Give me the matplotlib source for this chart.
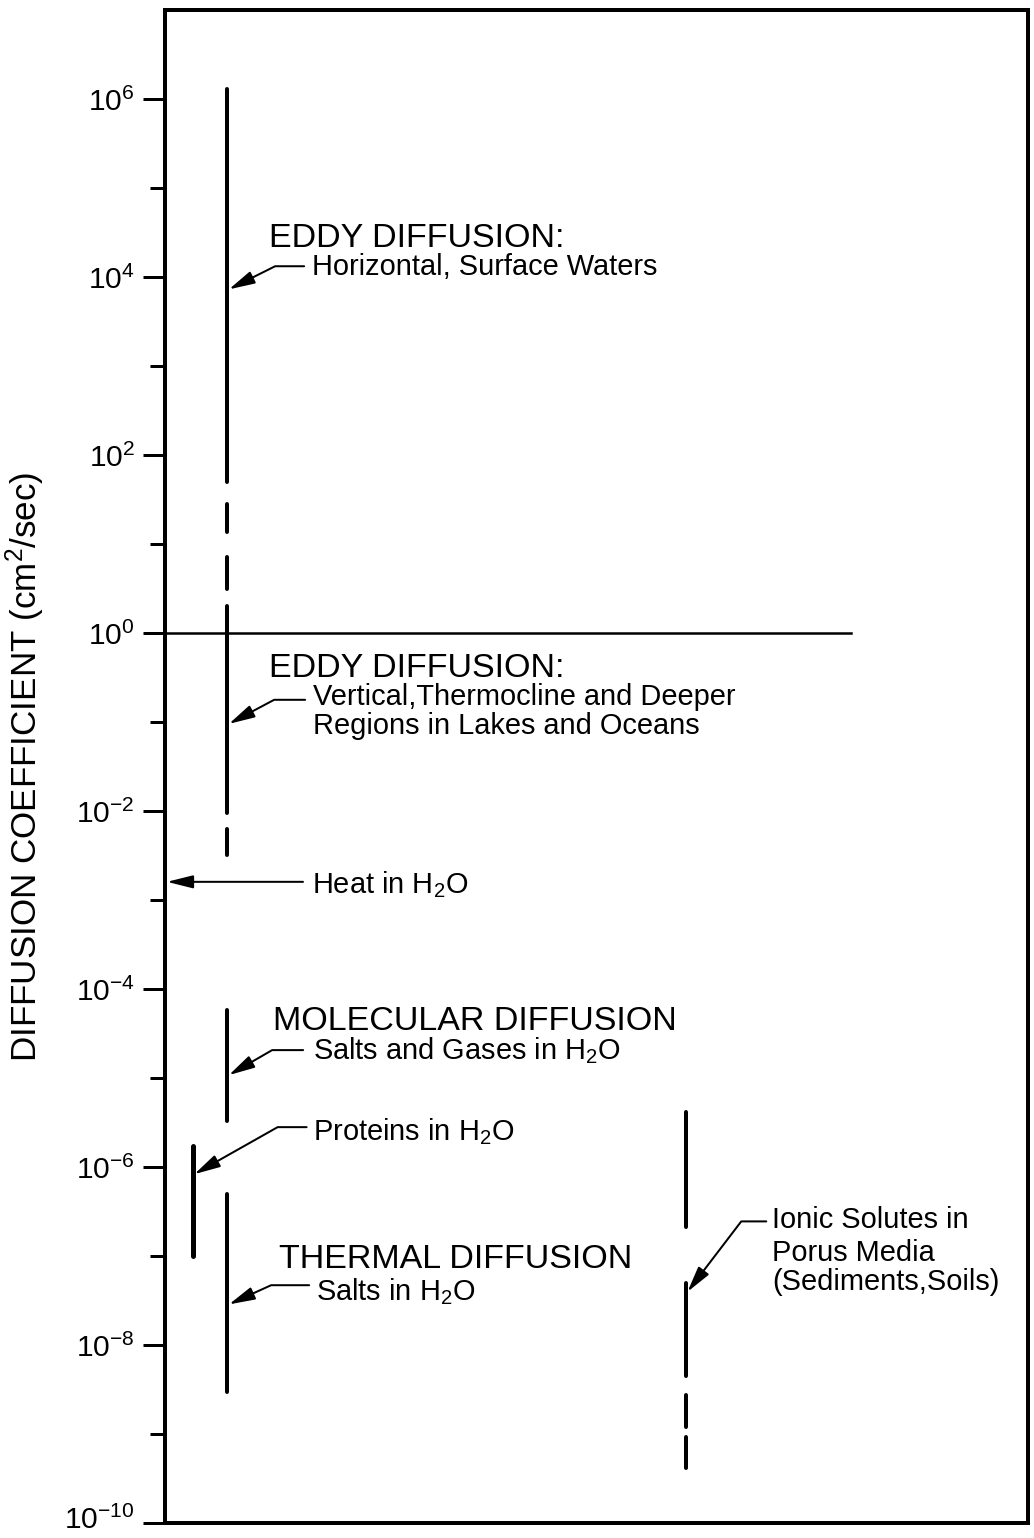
import math
import matplotlib
matplotlib.use("Agg")
import matplotlib.pyplot as plt
from matplotlib.ticker import NullFormatter
from matplotlib.transforms import ScaledTranslation

plt.rcParams["font.family"] = ["Liberation Sans", "DejaVu Sans"]
plt.rcParams["mathtext.fontset"] = "custom"
plt.rcParams["mathtext.rm"] = "Liberation Sans"
plt.rcParams["mathtext.it"] = "Liberation Sans:italic"
plt.rcParams["mathtext.bf"] = "Liberation Sans:bold"

# ---- data: diffusion coefficient ranges (cm^2/sec), [upper, lower] ----
eddy_horizontal_solid = [[1.3e6, 50.0]]
eddy_horizontal_dashed = [[28.0, 13.5], [7.1, 3.1]]
eddy_vertical_solid = [[2.0, 9.5e-3]]
eddy_vertical_dashed = [[6.2e-3, 3.2e-3]]
molecular_salts_gases = [[5.8e-5, 3.3e-6]]
proteins_h2o = [[1.7e-6, 1.0e-7]]
thermal_salts = [[5.0e-7, 3.0e-9]]
ionic_porous_solid = [[4.2e-6, 2.1e-7], [5.0e-8, 4.5e-9]]
ionic_porous_dashed = [[2.75e-9, 1.2e-9], [9.3e-10, 4.2e-10]]
heat_h2o = 1.6e-3
boundary_value = 1.0

# values the pointer arrows land on
ptr_horizontal = 7.1e3
ptr_vertical = 9.3e-2
ptr_molecular = 1.05e-5
ptr_proteins = 8.1e-7
ptr_thermal = 2.8e-8
ptr_ionic = 3.8e-8

major_exponents = [6, 4, 2, 0, -2, -4, -6, -8, -10]
minor_exponents = [5, 3, 1, -1, -3, -5, -7, -9]
y_label = "DIFFUSION COEFFICIENT (cm$^2$/sec)"

# ---- figure (72 dpi so that points equal pixels) ----
DPI = 72
W, H = 1034, 1538
fig = plt.figure(figsize=(W / DPI, H / DPI), dpi=DPI)
ax = fig.add_axes([165 / W, 15 / H, 863 / W, 1513 / H])
ax.set_yscale("log")
ax.set_ylim(1e-10, 1e7)
ax.set_xlim(0, 1)

for s in ax.spines.values():
    s.set_linewidth(4)
ax.set_xticks([])
ax.set_yticks([10.0 ** e for e in major_exponents])
ax.set_yticklabels([r"$\mathregular{10^{%d}}$" % e for e in major_exponents])
ax.set_yticks([10.0 ** e for e in minor_exponents], minor=True)
ax.yaxis.set_minor_formatter(NullFormatter())
ax.tick_params(axis="y", which="major", length=22, width=3, direction="out",
               pad=8, labelsize=30)
ax.tick_params(axis="y", which="minor", length=15, width=3, direction="out")
ax.set_ylabel(y_label, fontsize=35)
ax.yaxis.set_label_coords(-0.137, 0.5)

# lift the bottom tick label slightly so it stays inside the figure
for tl in ax.get_yticklabels():
    if "-10" in tl.get_text():
        tl.set_transform(tl.get_transform()
                         + ScaledTranslation(0, 6 / DPI, fig.dpi_scale_trans))

# column positions (axes fraction)
X_MAIN = 0.072
X_PROT = 0.032
X_IONIC = 0.604


def column(x, ranges, lw=4):
    for top, bottom in ranges:
        ax.plot([x, x], [top, bottom], color="k", lw=lw,
                solid_capstyle="round")


column(X_MAIN, eddy_horizontal_solid)
column(X_MAIN, eddy_horizontal_dashed)
column(X_MAIN, eddy_vertical_solid)
column(X_MAIN, eddy_vertical_dashed)
column(X_MAIN, molecular_salts_gases)
column(X_PROT, proteins_h2o, lw=5)
column(X_MAIN, thermal_salts)
column(X_IONIC, ionic_porous_solid)
column(X_IONIC, ionic_porous_dashed)

# boundary between eddy regimes
ax.plot([0, 0.795], [boundary_value, boundary_value], color="k", lw=2.5)

HEAD = "-|>,head_length=22,head_width=5.5"


def pointer(x, v, elbow, end):
    ex, ey = elbow
    ang = math.degrees(math.atan2(ey, ex))
    ax.annotate("", xy=(x, v), xytext=end, textcoords="offset points",
                arrowprops=dict(arrowstyle=HEAD, mutation_scale=1,
                                connectionstyle=f"angle,angleA=0,angleB={ang},rad=0",
                                lw=2, color="k", shrinkA=0, shrinkB=2))


def label(x, v, off, text, size=29):
    ax.annotate(text, xy=(x, v), xytext=off, textcoords="offset points",
                ha="left", va="baseline", fontsize=size)


# eddy diffusion, horizontal
label(X_MAIN, ptr_horizontal, (42, 43), "EDDY DIFFUSION:", 34)
pointer(X_MAIN, ptr_horizontal, (48, 24), (77, 24))
label(X_MAIN, ptr_horizontal, (85, 15), "Horizontal, Surface Waters")

# eddy diffusion, vertical
label(X_MAIN, ptr_vertical, (42, 48), "EDDY DIFFUSION:", 34)
pointer(X_MAIN, ptr_vertical, (47, 25), (78, 25))
label(X_MAIN, ptr_vertical, (86, 20), "Vertical,Thermocline and Deeper")
label(X_MAIN, ptr_vertical, (86, -9), "Regions in Lakes and Oceans")

# heat in water
ax.annotate("", xy=(0, heat_h2o), xytext=(138, 0), textcoords="offset points",
            arrowprops=dict(arrowstyle=HEAD, mutation_scale=1, lw=2, color="k",
                            shrinkA=0, shrinkB=2))
label(0, heat_h2o, (147, -11), "Heat in H$_2$O")

# molecular diffusion
label(X_MAIN, ptr_molecular, (46, 46), "MOLECULAR DIFFUSION", 34)
pointer(X_MAIN, ptr_molecular, (45, 26), (76, 26))
label(X_MAIN, ptr_molecular, (86, 17), "Salts and Gases in H$_2$O")

# proteins
pointer(X_PROT, ptr_proteins, (85, 48), (114, 48))
label(X_PROT, ptr_proteins, (120, 35), "Proteins in H$_2$O")

# thermal diffusion
label(X_MAIN, ptr_thermal, (52, 37), "THERMAL DIFFUSION", 34)
pointer(X_MAIN, ptr_thermal, (44, 20), (82, 20))
label(X_MAIN, ptr_thermal, (89, 5), "Salts in H$_2$O")

# ionic solutes in porous media
pointer(X_IONIC, ptr_ionic, (55, 72), (80, 72))
label(X_IONIC, ptr_ionic, (86, 65), "Ionic Solutes in")
label(X_IONIC, ptr_ionic, (86, 32), "Porus Media")
label(X_IONIC, ptr_ionic, (86, 3), "(Sediments,Soils)")

fig.savefig("out.png", dpi=DPI)
